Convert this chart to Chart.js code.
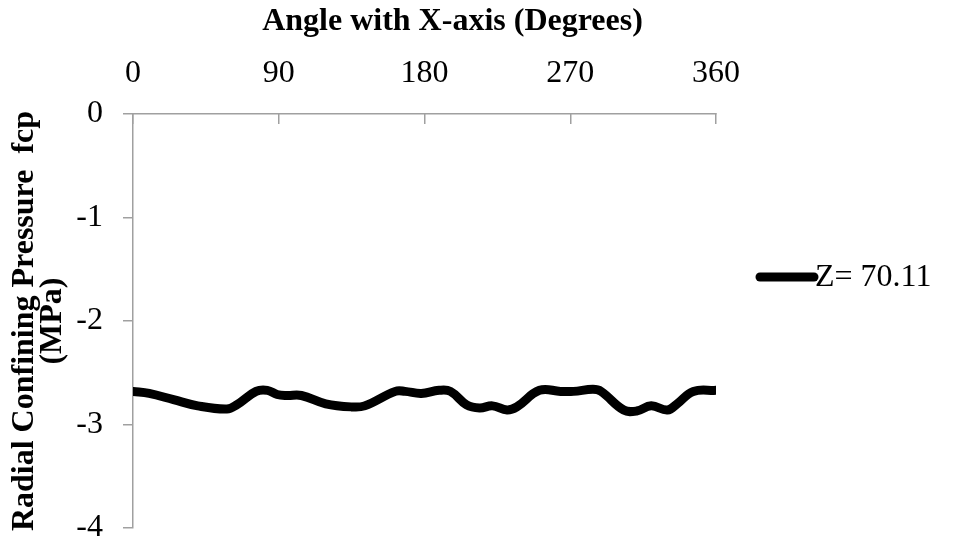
<!DOCTYPE html>
<html>
<head>
<meta charset="utf-8">
<script src="https://cdn.jsdelivr.net/npm/chart.js@4/dist/chart.umd.min.js"></script>
<style>
  html, body { margin: 0; padding: 0; background: #fff; }
  #wrap { width: 954px; height: 541px; position: relative; }
</style>
</head>
<body>
<div id="wrap"><canvas id="c" width="954" height="541"></canvas></div>
<script>
// Radial confining pressure around the section at Z = 70.11
const seriesLabel = 'Z= 70.11';
const angles = [0, 10, 25, 40, 58, 64, 76, 83, 89, 95, 104, 119, 135, 143, 162, 168, 178, 189, 196, 206, 214, 222, 231, 237, 251, 264, 272, 284, 289, 303, 311, 320, 330, 336, 346, 360];
const pressure = [-2.68, -2.70, -2.76, -2.82, -2.85, -2.81, -2.68, -2.67, -2.71, -2.72, -2.72, -2.80, -2.83, -2.82, -2.68, -2.68, -2.70, -2.67, -2.68, -2.81, -2.84, -2.82, -2.86, -2.83, -2.67, -2.68, -2.68, -2.66, -2.68, -2.86, -2.87, -2.82, -2.86, -2.80, -2.68, -2.67];
const xTicks = [0, 90, 180, 270, 360];
const yTicks = [0, -1, -2, -3, -4];
const xTitle = 'Angle with X-axis (Degrees)';
const yTitle = ['Radial Confining Pressure  fcp', '(MPa)'];

const serif = '"Liberation Serif", "Times New Roman", serif';
const axisGrey = '#a0a0a0';

// Title of the top axis, sitting a little right of the plot centre
const topAxisTitle = {
  id: 'topAxisTitle',
  afterDraw(chart) {
    const ctx = chart.ctx;
    const xs = chart.scales.x;
    ctx.save();
    ctx.fillStyle = '#000';
    ctx.font = 'bold 32px ' + serif;
    ctx.textAlign = 'center';
    ctx.textBaseline = 'middle';
    ctx.fillText(xTitle, (xs.left + xs.right) / 2 + 28, xs.top + 22);
    ctx.restore();
  }
};

// Legend entry drawn to the right of the plot
const sideLegend = {
  id: 'sideLegend',
  afterDraw(chart) {
    const ds = chart.data.datasets[0];
    const ctx = chart.ctx;
    const x0 = chart.chartArea.right + 44;
    const y = 277;
    ctx.save();
    ctx.strokeStyle = ds.borderColor;
    ctx.lineWidth = 9;
    ctx.lineCap = 'round';
    ctx.beginPath();
    ctx.moveTo(x0, y);
    ctx.lineTo(x0 + 54, y);
    ctx.stroke();
    ctx.fillStyle = '#000';
    ctx.font = '32px ' + serif;
    ctx.textBaseline = 'middle';
    ctx.textAlign = 'left';
    ctx.fillText(ds.label, x0 + 55, y + 1);
    ctx.restore();
  }
};

new Chart(document.getElementById('c'), {
  type: 'line',
  data: {
    datasets: [{
      label: seriesLabel,
      data: angles.map((a, i) => ({ x: a, y: pressure[i] })),
      borderColor: '#000',
      borderWidth: 9,
      borderCapStyle: 'round',
      borderJoinStyle: 'round',
      tension: 0.4,
      pointRadius: 0,
      fill: false
    }]
  },
  options: {
    responsive: false,
    animation: false,
    devicePixelRatio: 1,
    layout: { autoPadding: false, padding: { left: 0, top: 0, right: 238, bottom: 13 } },
    plugins: { legend: { display: false }, tooltip: { enabled: false } },
    scales: {
      x: {
        type: 'linear',
        position: 'top',
        min: 0, max: 360,
        afterBuildTicks(scale) { scale.ticks = xTicks.map(v => ({ value: v })); },
        afterFit(scale) { scale.height = 114; scale.paddingLeft = 0; scale.paddingRight = 0; },
        grid: { drawOnChartArea: false, drawTicks: true, tickLength: -10, color: axisGrey, lineWidth: 1.5 },
        border: { display: true, color: axisGrey, width: 1.5 },
        ticks: { color: '#000', font: { family: serif, size: 32, lineHeight: 1.2 }, padding: 31, maxRotation: 0 },
        title: { display: false }
      },
      y: {
        type: 'linear',
        position: 'left',
        min: -4, max: 0,
        afterBuildTicks(scale) { scale.ticks = yTicks.map(v => ({ value: v })); },
        afterFit(scale) { scale.width = 133; scale.paddingTop = 0; scale.paddingBottom = 0; },
        grid: { drawOnChartArea: false, drawTicks: true, tickLength: 10, color: axisGrey, lineWidth: 1.5 },
        border: { display: true, color: axisGrey, width: 1.5 },
        ticks: { color: '#000', font: { family: serif, size: 32, lineHeight: 1.2 }, padding: 20 },
        title: { display: true, text: yTitle, color: '#000', font: { family: serif, size: 32, weight: 'bold', lineHeight: 0.9 }, padding: { top: 10, bottom: 0 } }
      }
    }
  },
  plugins: [topAxisTitle, sideLegend]
});
</script>
</body>
</html>
